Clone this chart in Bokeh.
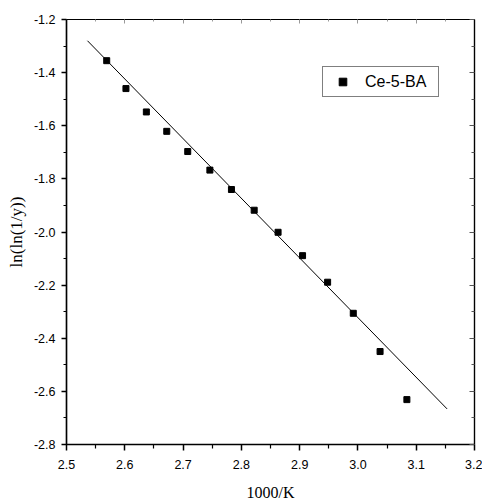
from bokeh.plotting import figure
from bokeh.models import (Range1d, LinearAxis, FixedTicker, Legend, LegendItem,
                          CustomJSTickFormatter)
from bokeh.embed import file_html
from bokeh.resources import INLINE

# data
x_vals = [2.569, 2.602, 2.637, 2.672, 2.708, 2.746, 2.783, 2.822, 2.863, 2.905, 2.948, 2.992, 3.038, 3.084]
y_vals = [-1.355, -1.460, -1.548, -1.621, -1.697, -1.767, -1.840, -1.918, -2.001, -2.089, -2.189, -2.306, -2.450, -2.631]
fit_x = [2.536, 3.153]
fit_y = [-1.280, -2.666]
series_name = "Ce-5-BA"
x_title = "1000/K"
y_title = "ln(ln(1/y))"
x_ticks = [2.5, 2.6, 2.7, 2.8, 2.9, 3.0, 3.1, 3.2]
x_minor = [2.55, 2.65, 2.75, 2.85, 2.95, 3.05, 3.15]
y_ticks = [-2.8, -2.6, -2.4, -2.2, -2.0, -1.8, -1.6, -1.4, -1.2]
y_minor = [-2.7, -2.5, -2.3, -2.1, -1.9, -1.7, -1.5, -1.3]

p = figure(width=482, height=504,
           x_range=Range1d(2.5, 3.2), y_range=Range1d(-2.8, -1.2),
           output_backend="svg", toolbar_location=None,
           min_border_left=66, min_border_top=19, min_border_right=8, min_border_bottom=60)
p.background_fill_color = "white"
p.border_fill_color = "white"
p.outline_line_color = "black"
p.outline_line_width = 1.2
p.xgrid.visible = False
p.ygrid.visible = False

p.xaxis.ticker = FixedTicker(ticks=x_ticks, minor_ticks=x_minor)
p.yaxis.ticker = FixedTicker(ticks=y_ticks, minor_ticks=y_minor)
p.xaxis.formatter = CustomJSTickFormatter(code="return tick.toFixed(1)")
p.yaxis.formatter = CustomJSTickFormatter(code="return tick.toFixed(1)")

for ax in (p.xaxis[0], p.yaxis[0]):
    ax.axis_line_color = "black"
    ax.axis_line_width = 1.5
    ax.major_tick_line_color = "black"
    ax.minor_tick_line_color = "black"
    ax.major_tick_line_width = 1.5
    ax.minor_tick_line_width = 1.2
    ax.major_tick_in = 0
    ax.minor_tick_in = 0
    ax.major_label_text_font = "Liberation Sans"
    ax.major_label_text_font_size = "12.5px"
    ax.major_label_text_color = "black"
    ax.axis_label_text_font = "Liberation Serif"
    ax.axis_label_text_font_style = "normal"
    ax.axis_label_text_color = "black"

p.xaxis.major_tick_out = 6
p.xaxis.minor_tick_out = 4
p.xaxis.major_label_standoff = 9
p.xaxis.axis_label = x_title
p.xaxis.axis_label_text_font_size = "16px"
p.xaxis.axis_label_standoff = 12

p.yaxis.major_tick_out = 5
p.yaxis.minor_tick_out = 3
p.yaxis.major_label_standoff = 6
p.yaxis.axis_label = y_title
p.yaxis.axis_label_text_font_size = "17px"
p.yaxis.axis_label_standoff = 5

empty = CustomJSTickFormatter(code="return ''")
right = LinearAxis(ticker=FixedTicker(ticks=y_ticks, minor_ticks=y_minor), formatter=empty,
                   major_tick_in=5, major_tick_out=0, minor_tick_in=3, minor_tick_out=0,
                   major_label_text_font_size="0px", major_label_standoff=0,
                   axis_line_color="black", axis_line_width=1.2,
                   major_tick_line_color="#555555", minor_tick_line_color="#555555")
top = LinearAxis(ticker=FixedTicker(ticks=x_ticks, minor_ticks=x_minor), formatter=empty,
                 major_tick_in=4, major_tick_out=0, minor_tick_in=2, minor_tick_out=0,
                 major_label_text_font_size="0px", major_label_standoff=0,
                 axis_line_color="black", axis_line_width=1.2,
                 major_tick_line_color="#999999", minor_tick_line_color="#999999")
p.add_layout(right, "right")
p.add_layout(top, "above")

p.line(fit_x, fit_y, line_color="black", line_width=1)
sq = p.scatter(x_vals, y_vals, marker="square", size=6, fill_color="black", line_color="black")

legend = Legend(items=[LegendItem(label=series_name, renderers=[sq])],
                location=(256, 347), padding=5, margin=0,
                glyph_width=29, glyph_height=19, label_standoff=8, label_width=68,
                label_text_font="Liberation Sans", label_text_font_size="16px",
                label_text_color="black",
                border_line_color="black", border_line_width=1,
                background_fill_color="white", background_fill_alpha=1)
p.add_layout(legend, "center")

open("out.html", "w").write(file_html(p, INLINE))
